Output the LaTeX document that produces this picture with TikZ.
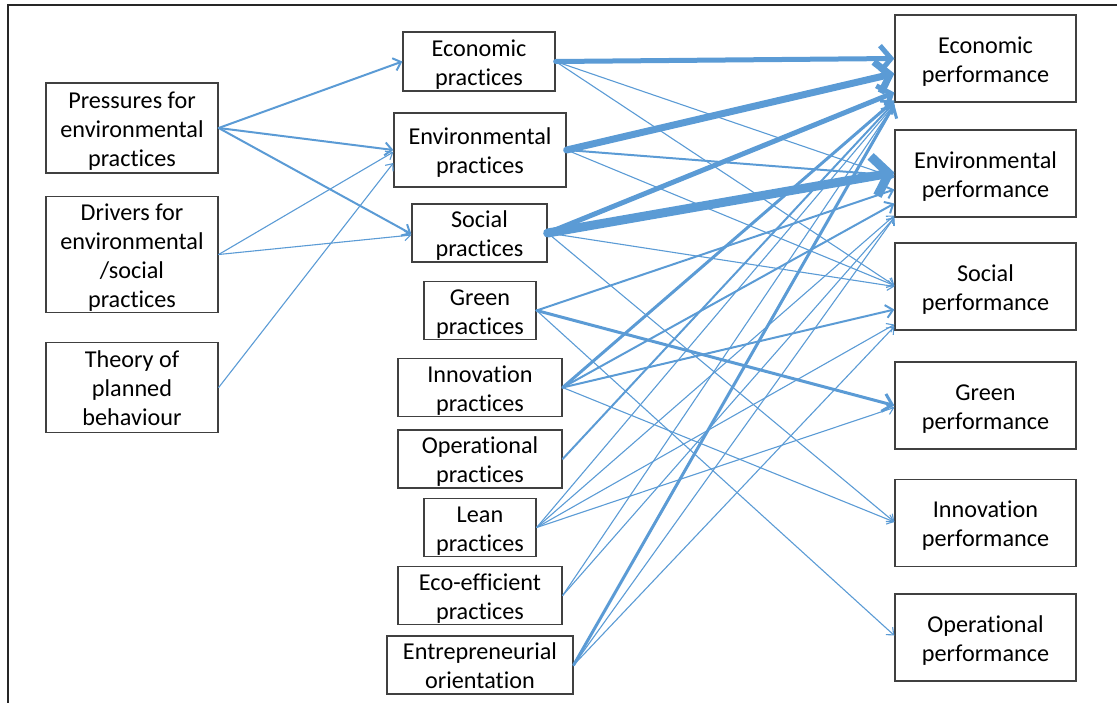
\documentclass[tikz,border=0pt]{standalone}
\usepackage{fontspec}
\setmainfont[Ligatures=NoCommon]{Carlito}
\usetikzlibrary{arrows.meta}
\definecolor{ablue}{HTML}{5B9BD5}
\definecolor{bord}{HTML}{404040}
\newcommand\tx[1]{\raisebox{-3.5pt}[\height][\depth]{\begin{tabular}{@{}c@{}}#1\end{tabular}}}
\begin{document}
\begin{tikzpicture}[x=1pt,y=-1pt,
  box/.style={draw=bord,line width=1.3pt,rectangle,inner sep=0pt,
    font=\fontsize{24.2}{29}\selectfont,text=black},
  lbox/.style={box,minimum width=172pt},
  rbox/.style={box,minimum width=181pt,minimum height=87pt},
  ea/.style={draw=ablue,line cap=round},
  wa/.style={ea,line width=1.1pt,-{Straight Barb[length=6pt,width=10pt]}},
  wb/.style={ea,line width=2pt,-{Straight Barb[length=7pt,width=13pt]}},
  wc/.style={ea,line width=3pt,-{Straight Barb[length=9pt,width=18pt]}},
  wd/.style={ea,line width=5pt,-{Straight Barb[length=11pt,width=26pt]}},
  we/.style={ea,line width=7pt,-{Straight Barb[length=13pt,width=32pt]}},
  wf/.style={ea,line width=9pt,-{Straight Barb[length=15pt,width=40pt]}},
  frame/.style={draw=black!85,line width=1.5pt}
]
\useasboundingbox (0,0) rectangle (1117,702);
\draw[frame] (8,710) -- (8,5) -- (1125,5);

% left column
\node[lbox,minimum height=90pt] (pr) at (132,128) {\tx{Pressures for\\environmental\\practices}};
\node[lbox,minimum height=113pt] (dr) at (132,254.5) {\tx{Drivers for\\environmental\\/social\\practices}};
\node[lbox,minimum height=90pt] (th) at (132,387.5) {\tx{Theory of\\planned\\behaviour}};

% middle column
\node[box,minimum width=152pt,minimum height=59pt] (ecp) at (479,61.5) {\tx{Economic\\practices}};
\node[box,minimum width=172pt,minimum height=74pt] (enp) at (480,150) {\tx{Environmental\\practices}};
\node[box,minimum width=135pt,minimum height=58pt] (sop) at (479.5,233) {\tx{Social\\practices}};
\node[box,minimum width=112pt,minimum height=53pt] (grp) at (480,310.5) {\tx{Green\\practices}};
\node[box,minimum width=164pt,minimum height=55pt] (inp) at (480,387.5) {\tx{Innovation\\practices}};
\node[box,minimum width=164pt,minimum height=54pt] (opp) at (480,459) {\tx{Operational\\practices}};
\node[box,minimum width=112pt,minimum height=53pt] (lep) at (480,527.5) {\tx{Lean\\practices}};
\node[box,minimum width=164pt,minimum height=55pt] (eep) at (480,595.5) {\tx{Eco-efficient\\practices}};
\node[box,minimum width=186pt,minimum height=54pt] (ent) at (480,665) {\tx{Entrepreneurial\\orientation}};

% right column
\node[rbox] (ecf) at (985.5,58.5) {\tx{Economic\\performance}};
\node[rbox] (enf) at (985.5,173.5) {\tx{Environmental\\performance}};
\node[rbox] (sof) at (985.5,286.5) {\tx{Social\\performance}};
\node[rbox] (grf) at (985.5,405.5) {\tx{Green\\performance}};
\node[rbox] (inf) at (985.5,523) {\tx{Innovation\\performance}};
\node[rbox] (opf) at (985.5,637.5) {\tx{Operational\\performance}};

% left -> middle
\draw[wb] (pr.east) -- (ecp.west);
\draw[wb] (pr.east) -- (enp.west);
\draw[wb] (pr.east) -- ([yshift=-1pt]sop.west);
\draw[wa] (dr.east) -- ([yshift=-2pt]enp.west);
\draw[wa] (dr.east) -- ([yshift=-2pt]sop.west);
\draw[wa] (th.east) -- ([yshift=-13pt]enp.west);

% middle -> right (thin first)
\draw[wa] (ecp.east) -- ([yshift=-4pt]enf.west);
\draw[wa] (ecp.east) -- ([yshift=1pt]sof.west);
\draw[wa] (enp.east) -- ([yshift=1pt]sof.west);
\draw[wa] (sop.east) -- ([yshift=0pt]sof.west);
\draw[wa] (sop.east) -- ([yshift=1pt]inf.west);
\draw[wa] (grp.east) -- ([yshift=2pt]opf.west);
\draw[wa] (inp.east) -- ([yshift=1pt]inf.west);
\draw[wa] (lep.east) -- ([yshift=-46pt]ecf.west);
\draw[wa] (lep.east) -- ([yshift=-42pt]enf.west);
\draw[wa] (lep.east) -- ([yshift=-38pt]sof.west);
\draw[wa] (lep.east) -- ([yshift=-2pt]grf.west);
\draw[wa] (eep.east) -- ([yshift=-46pt]ecf.west);
\draw[wa] (eep.east) -- ([yshift=-44pt]enf.west);
\draw[wa] (ent.east) -- ([yshift=-44pt]enf.west);
\draw[wa] (ent.east) -- ([yshift=-40pt]sof.west);
% medium
\draw[wb] (enp.east) -- ([yshift=-2pt]enf.west);
\draw[wb] (grp.east) -- ([yshift=-16pt]enf.west);
\draw[wc] (grp.east) -- ([yshift=0pt]grf.west);
\draw[wb] (inp.east) -- ([yshift=-30pt]enf.west);
\draw[wb] (inp.east) -- ([yshift=-23pt]sof.west);
\draw[wc] (inp.east) -- ([yshift=-42pt]ecf.west);
\draw[wb] (opp.east) -- ([yshift=-44pt]ecf.west);
\draw[wc] (ent.east) -- ([yshift=-46pt]ecf.west);
% thick
\draw[wd] (ecp.east) -- ([yshift=0pt]ecf.west);
\draw[we] (enp.east) -- ([yshift=-15pt]ecf.west);
\draw[wd] (sop.east) -- ([yshift=-34pt]ecf.west);
\draw[wf] (sop.east) -- ([yshift=1pt]enf.west);
\end{tikzpicture}
\end{document}
